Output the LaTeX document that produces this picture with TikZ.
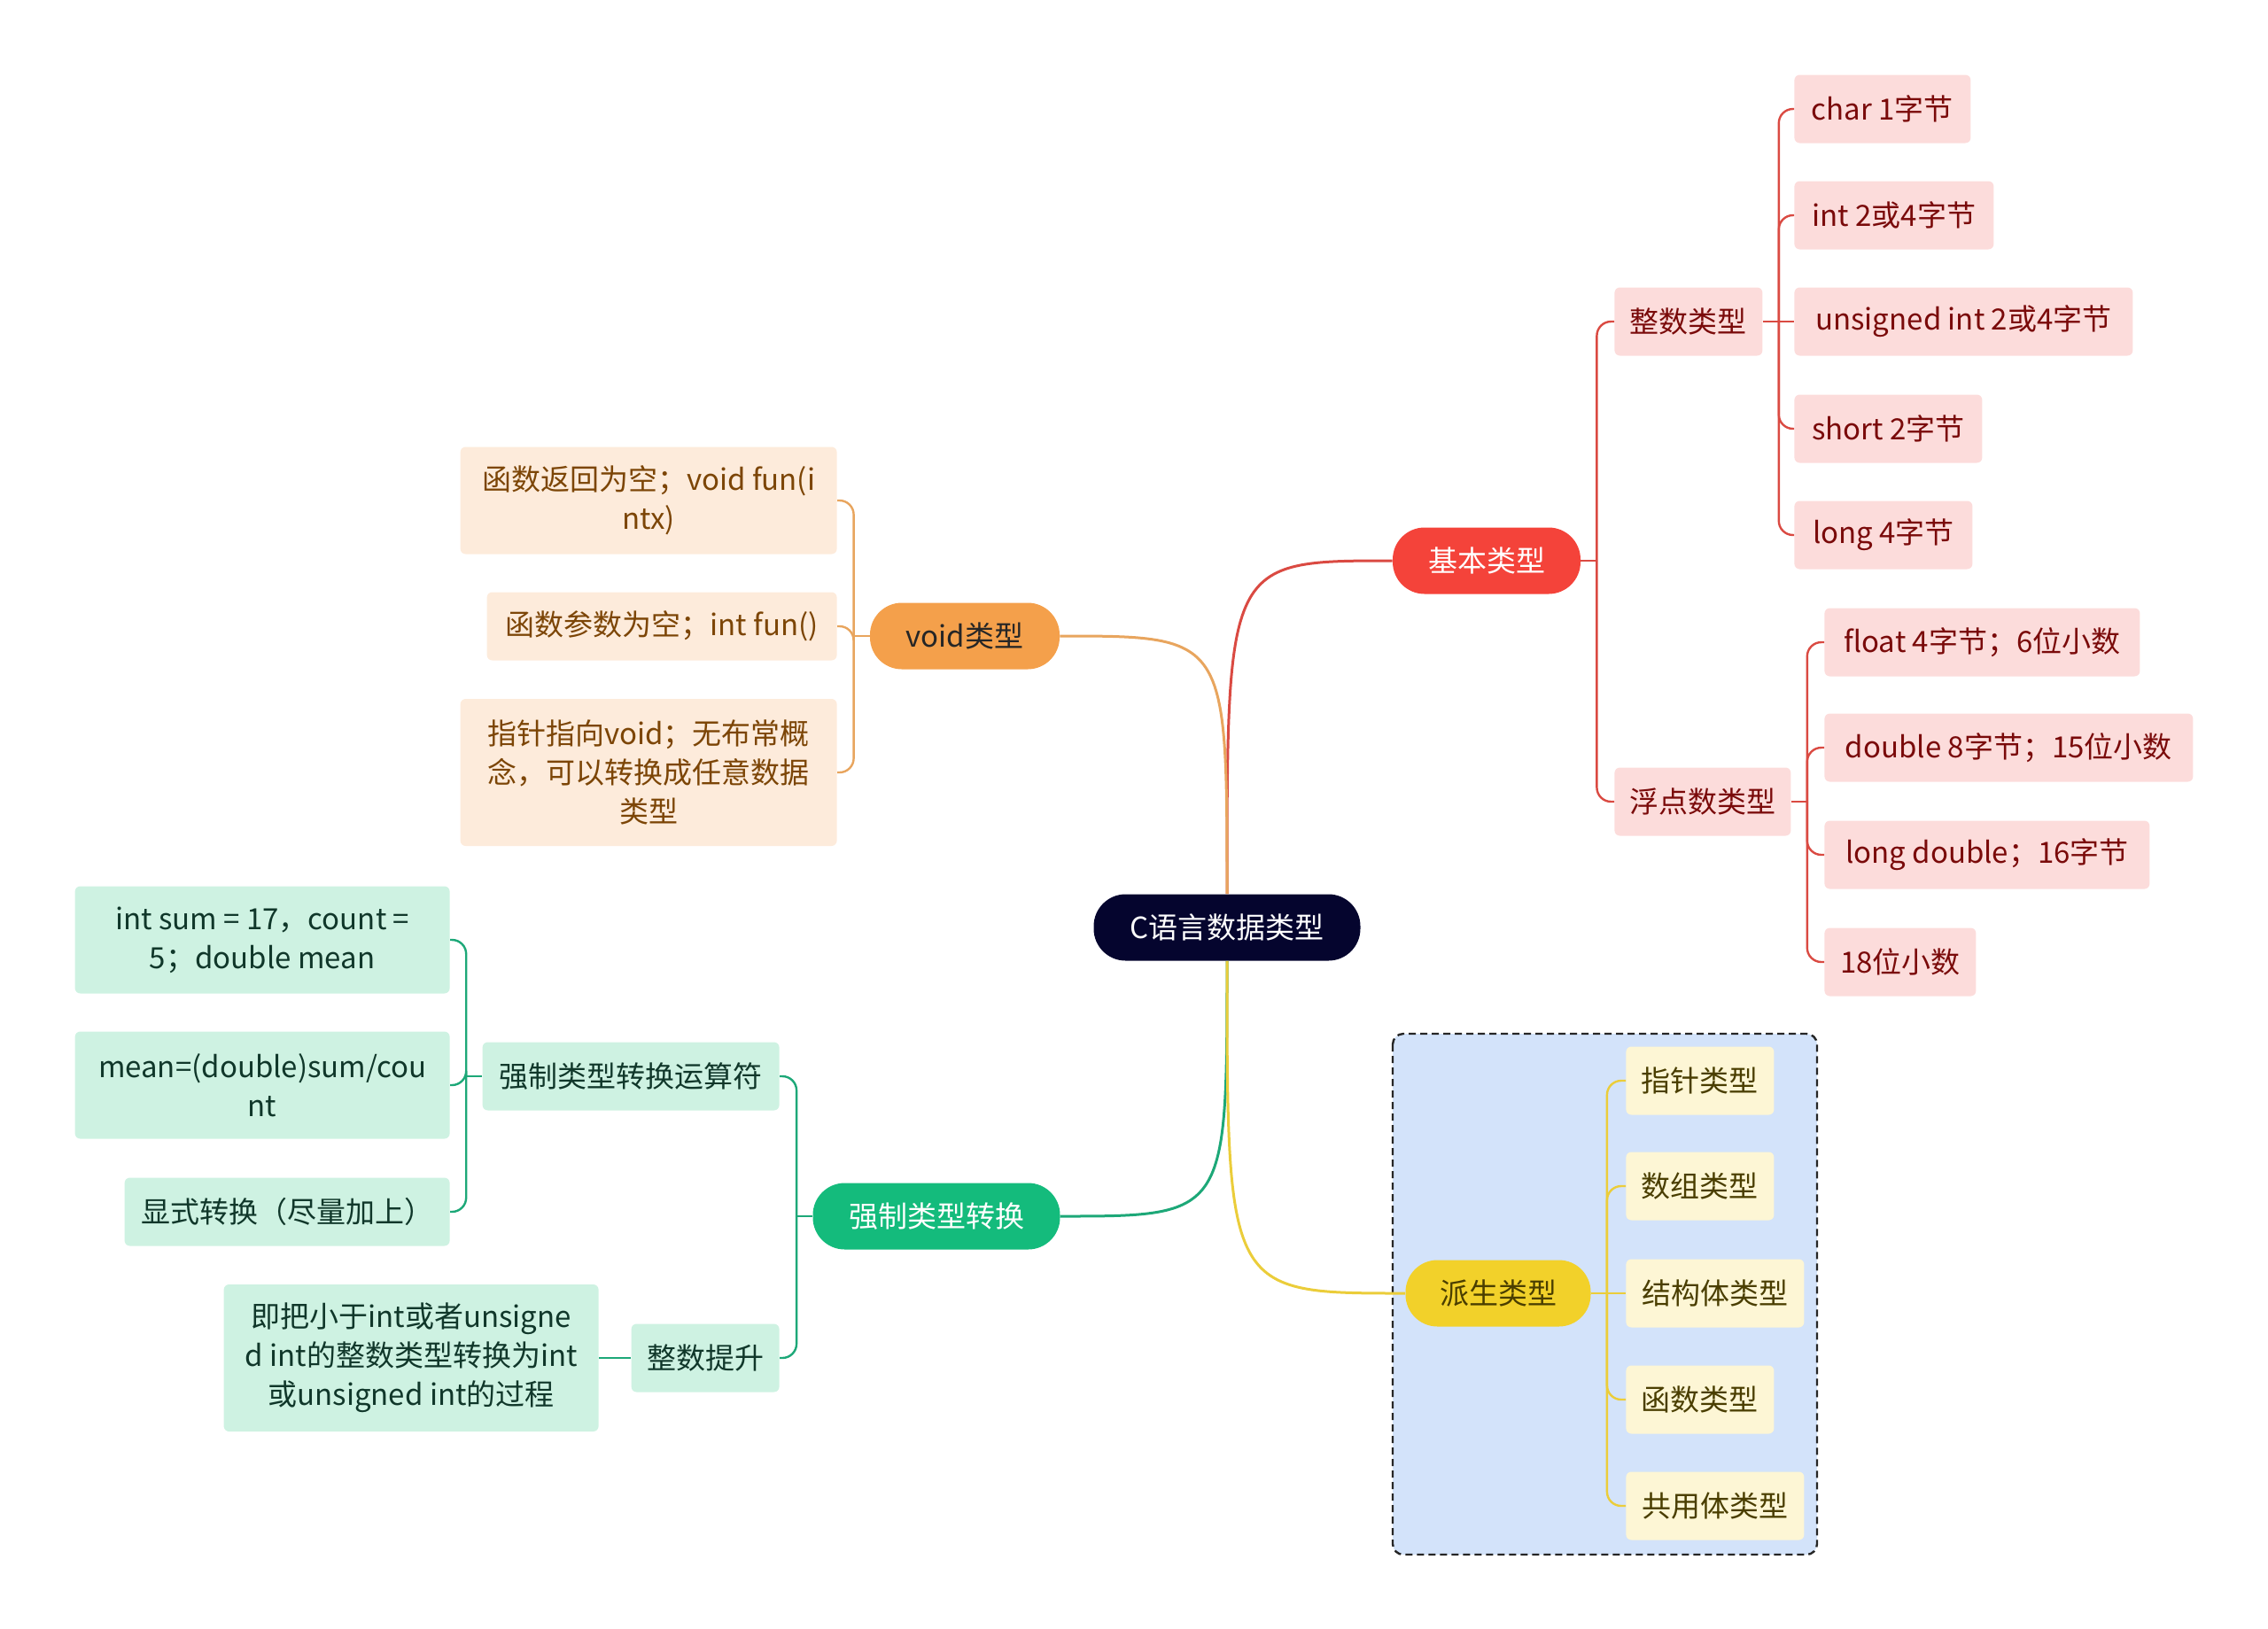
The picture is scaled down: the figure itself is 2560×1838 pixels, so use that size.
\documentclass[tikz,border=0pt]{standalone}
\usepackage{fontspec}
\setmainfont{Noto Sans CJK SC}
\usepackage{xcolor}
\definecolor{rootnavy}{HTML}{05052E}
\definecolor{basicred}{HTML}{F4433A}
\definecolor{basicline}{HTML}{DA4A42}
\definecolor{basicleaf}{HTML}{FCDCDB}
\definecolor{basictext}{HTML}{7A0A0A}
\definecolor{voidorange}{HTML}{F4A04B}
\definecolor{voidline}{HTML}{E8A55E}
\definecolor{voidleaf}{HTML}{FDEBDB}
\definecolor{voidtext}{HTML}{7C4506}
\definecolor{castgreen}{HTML}{14BB7C}
\definecolor{castline}{HTML}{1DA878}
\definecolor{castleaf}{HTML}{CEF2E2}
\definecolor{casttext}{HTML}{10372A}
\definecolor{derivyellow}{HTML}{F2D12A}
\definecolor{derivline}{HTML}{EBCD3A}
\definecolor{derivleaf}{HTML}{FDF6D5}
\definecolor{derivtext}{HTML}{4A3E00}
\definecolor{groupblue}{HTML}{D3E3FA}

\begin{document}
\begin{tikzpicture}[
  x=0.5pt, y=-0.5pt,
  every node/.style={font=\fontsize{16.5}{22}\selectfont, align=center, inner sep=0pt},
  topic/.style={rounded corners=18pt, minimum height=37.5pt},
  leaf/.style={rounded corners=3pt, minimum height=38.5pt},
  twoline/.style={minimum height=60.5pt},
  threeline/.style={minimum height=83pt},
  branch/.style={line width=1.5pt},
  twig/.style={line width=1.2pt, rounded corners=8pt}
]
  \useasboundingbox (0,0) rectangle (2560,1838);

  \draw[
    draw=black!85,
    fill=groupblue,
    line width=1.2pt,
    dash pattern=on 4pt off 2.5pt,
    rounded corners=6pt
  ] (1572,1167) rectangle (2051,1755);

  \node[topic, fill=rootnavy, text=white, minimum width=150.5pt] (root) at (1385,1047) {C语言数据类型};

  \node[topic, fill=basicred, text=white, minimum width=106pt] (basic) at (1678,633) {基本类型};
  \node[leaf, fill=basicleaf, text=basictext, minimum width=83.5pt, anchor=west] (intT) at (1822,363) {整数类型};
  \node[leaf, fill=basicleaf, text=basictext, minimum width=99.5pt, anchor=west] (floatT) at (1822,905) {浮点数类型};
  \node[leaf, fill=basicleaf, text=basictext, minimum width=99.5pt, anchor=west] (charB) at (2025,123) {char 1字节};
  \node[leaf, fill=basicleaf, text=basictext, minimum width=112.5pt, anchor=west] (intB) at (2025,243) {int 2或4字节};
  \node[leaf, fill=basicleaf, text=basictext, minimum width=191pt, anchor=west] (uintB) at (2025,363) {unsigned int 2或4字节};
  \node[leaf, fill=basicleaf, text=basictext, minimum width=106pt, anchor=west] (shortB) at (2025,484) {short 2字节};
  \node[leaf, fill=basicleaf, text=basictext, minimum width=100.5pt, anchor=west] (longB) at (2025,604) {long 4字节};
  \node[leaf, fill=basicleaf, text=basictext, minimum width=178pt, anchor=west] (floatB) at (2059,725) {float 4字节；6位小数};
  \node[leaf, fill=basicleaf, text=basictext, minimum width=208pt, anchor=west] (doubleB) at (2059,844) {double 8字节；15位小数};
  \node[leaf, fill=basicleaf, text=basictext, minimum width=183.5pt, anchor=west] (ldoubleB) at (2059,965) {long double；16字节};
  \node[leaf, fill=basicleaf, text=basictext, minimum width=85.5pt, anchor=west] (digitsB) at (2059,1086) {18位小数};

  \node[topic, fill=voidorange, text=black!85, minimum width=107pt] (void) at (1089,718) {void类型};
  \node[leaf, twoline, fill=voidleaf, text=voidtext, minimum width=212.5pt, anchor=east] (voidRet) at (945,565) {函数返回为空；void fun(i\\ntx)};
  \node[leaf, fill=voidleaf, text=voidtext, minimum width=197.5pt, anchor=east] (voidArg) at (945,707) {函数参数为空；int fun()};
  \node[leaf, threeline, fill=voidleaf, text=voidtext, minimum width=212.5pt, anchor=east] (voidPtr) at (945,872) {指针指向void；无布常概\\念，可以转换成任意数据\\类型};

  \node[topic, fill=castgreen, text=white, minimum width=139.5pt] (cast) at (1057,1373) {强制类型转换};
  \node[leaf, fill=castleaf, text=casttext, minimum width=167.5pt, anchor=east] (castOp) at (880,1215) {强制类型转换运算符};
  \node[leaf, twoline, fill=castleaf, text=casttext, minimum width=211.5pt, anchor=east] (castDecl) at (508,1061) {int sum = 17，count =\\5；double mean};
  \node[leaf, twoline, fill=castleaf, text=casttext, minimum width=211.5pt, anchor=east] (castExpr) at (508,1225) {mean=(double)sum/cou\\nt};
  \node[leaf, fill=castleaf, text=casttext, minimum width=183.5pt, anchor=east] (castNote) at (508,1368) {显式转换（尽量加上）};
  \node[leaf, fill=castleaf, text=casttext, minimum width=83.5pt, anchor=east] (promo) at (880,1533) {整数提升};
  \node[leaf, threeline, fill=castleaf, text=casttext, minimum width=211.5pt, anchor=east] (promoDef) at (676,1533) {即把小于int或者unsigne\\d int的整数类型转换为int\\或unsigned int的过程};

  \node[topic, fill=derivyellow, text=derivtext, minimum width=104.5pt] (deriv) at (1691,1460) {派生类型};
  \node[leaf, fill=derivleaf, text=derivtext, minimum width=83.5pt, anchor=west] (ptrT) at (1835,1220) {指针类型};
  \node[leaf, fill=derivleaf, text=derivtext, minimum width=83.5pt, anchor=west] (arrT) at (1835,1339) {数组类型};
  \node[leaf, fill=derivleaf, text=derivtext, minimum width=100.5pt, anchor=west] (structT) at (1835,1460) {结构体类型};
  \node[leaf, fill=derivleaf, text=derivtext, minimum width=83.5pt, anchor=west] (funcT) at (1835,1580) {函数类型};
  \node[leaf, fill=derivleaf, text=derivtext, minimum width=100.5pt, anchor=west] (unionT) at (1835,1700) {共用体类型};

  \draw[branch, basicline] (root.north) .. controls (root.north |- basic.west) .. (basic.west);
  \draw[branch, voidline] (root.north) .. controls (root.north |- void.east) .. (void.east);
  \draw[branch, castline] (root.south) .. controls (root.south |- cast.east) .. (cast.east);
  \draw[branch, derivline] (root.south) .. controls (root.south |- deriv.west) .. (deriv.west);

  \draw[twig, basicline] (basic.east) -- ++(18,0) coordinate (basicJ);
  \draw[twig, basicline] (basicJ) |- (intT.west);
  \draw[twig, basicline] (basicJ) |- (floatT.west);
  \draw[twig, basicline] (intT.east) -- (uintB.west);
  \draw[twig, basicline] (intT.east) ++(18,0) coordinate (intJ);
  \draw[twig, basicline] (intJ) |- (charB.west);
  \draw[twig, basicline] (intJ) |- (intB.west);
  \draw[twig, basicline] (intJ) |- (shortB.west);
  \draw[twig, basicline] (intJ) |- (longB.west);
  \draw[twig, basicline] (floatT.east) -- ++(18,0) coordinate (floatJ);
  \draw[twig, basicline] (floatJ) |- (floatB.west);
  \draw[twig, basicline] (floatJ) |- (doubleB.west);
  \draw[twig, basicline] (floatJ) |- (ldoubleB.west);
  \draw[twig, basicline] (floatJ) |- (digitsB.west);

  \draw[twig, voidline] (void.west) -- ++(-18,0) coordinate (voidJ);
  \draw[twig, voidline] (voidJ) |- (voidRet.east);
  \draw[twig, voidline] (voidJ) |- (voidArg.east);
  \draw[twig, voidline] (voidJ) |- (voidPtr.east);

  \draw[twig, castline] (cast.west) -- ++(-18,0) coordinate (castJ);
  \draw[twig, castline] (castJ) |- (castOp.east);
  \draw[twig, castline] (castJ) |- (promo.east);
  \draw[twig, castline] (castOp.west) -- ++(-18,0) coordinate (castOpJ);
  \draw[twig, castline] (castOpJ) |- (castDecl.east);
  \draw[twig, castline] (castOpJ) |- (castExpr.east);
  \draw[twig, castline] (castOpJ) |- (castNote.east);
  \draw[twig, castline] (promo.west) -- (promoDef.east);

  \draw[twig, derivline] (deriv.east) -- (structT.west);
  \draw[twig, derivline] (deriv.east) ++(18,0) coordinate (derivJ);
  \draw[twig, derivline] (derivJ) |- (ptrT.west);
  \draw[twig, derivline] (derivJ) |- (arrT.west);
  \draw[twig, derivline] (derivJ) |- (funcT.west);
  \draw[twig, derivline] (derivJ) |- (unionT.west);
\end{tikzpicture}
\end{document}
